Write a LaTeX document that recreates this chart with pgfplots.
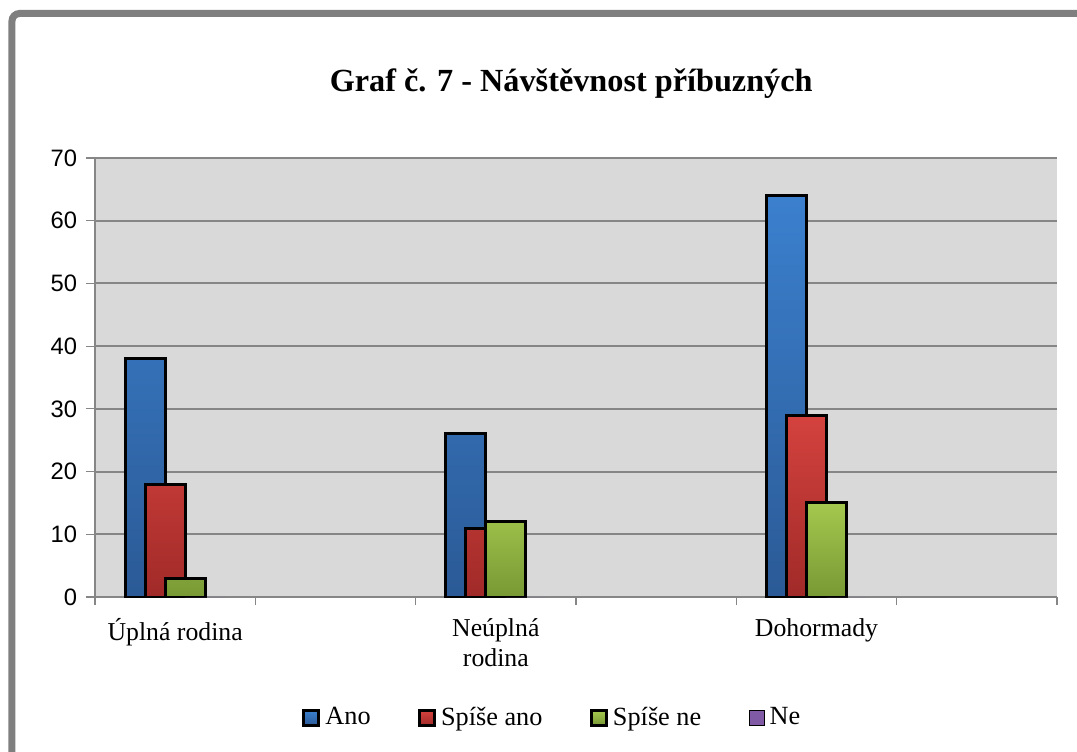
\documentclass[border=0pt]{standalone}
\usepackage{fontspec}
\setmainfont{Liberation Serif}
\setsansfont{Liberation Sans}
\usepackage{pgfplots}
\usepackage{pgfplotstable}
\pgfplotsset{compat=1.18}

\definecolor{bgc}{RGB}{217,217,217}
\definecolor{gridc}{RGB}{134,134,134}
\definecolor{framec}{RGB}{127,127,127}
\definecolor{blueT}{RGB}{59,128,206}
\definecolor{blueB}{RGB}{43,90,150}
\definecolor{redT}{RGB}{212,66,62}
\definecolor{redB}{RGB}{160,42,40}
\definecolor{greenT}{RGB}{164,200,78}
\definecolor{greenB}{RGB}{120,152,52}
\definecolor{neC}{RGB}{128,90,165}

% x: stred kategorie (3 skupiny ve 6 polich)
\pgfplotstableread{
x   ano spiseano spisene ne
0.5 38  18       3       0
2.5 26  11       12      0
4.5 64  29       15      0
}\navsteva

\begin{document}
\begin{tikzpicture}
\useasboundingbox (-38pt,-61.6pt) rectangle (392.8pt,238.8pt);
\draw[framec, line width=2.8pt, rounded corners=3pt] (-33.2pt,-80pt) -- (-33.2pt,233.4pt) -- (420pt,233.4pt);
\begin{axis}[
    scale only axis, width=384.8pt, height=175.6pt,
    xmin=0, xmax=6, ymin=0, ymax=70,
    ytick={0,10,...,70},
    xtick={0.5,2.5,4.5},
    xticklabels={Úplná rodina,{Neúplná\\rodina},Dohormady},
    minor xtick={0,1,...,6},
    axis x line*=bottom, axis y line*=left,
    axis line style={draw=gridc, line width=0.5pt},
    axis background/.style={fill=bgc},
    tick align=outside,
    major tick length=3.6pt, minor tick length=3.2pt,
    major x tick style={draw=none},
    tick style={draw=gridc, line width=0.5pt},
    ymajorgrids, grid style={draw=gridc, line width=0.8pt},
    /pgf/number format/assume math mode=true,
    yticklabel style={font=\sffamily\fontsize{9.5}{11}\selectfont},
    xticklabel style={font=\rmfamily\fontsize{10.3}{12.2}\selectfont, align=center, yshift=-1.5pt},
    title={Graf č. 7 - Návštěvnost příbuzných},
    title style={font=\rmfamily\bfseries\fontsize{12.9}{15}\selectfont, at={(0.495,1.118)}, anchor=base},
    legend style={at={(0.477,-0.2756)}, anchor=center, draw=none, fill=none,
        legend columns=4, font=\rmfamily\fontsize{10.5}{12}\selectfont,
        /tikz/every even column/.append style={column sep=17pt}},
    legend image code/.code={\draw[#1] (0pt,-3pt) rectangle (6pt,3pt);},
    bar width=0.25,
]
\addplot[ybar, bar shift=-0.1875, draw=black, line width=1.2pt, top color=blueT, bottom color=blueB]
    table[x=x, y=ano] {\navsteva};
\addlegendentry{Ano}
\addplot[ybar, bar shift=-0.0625, draw=black, line width=1.2pt, top color=redT, bottom color=redB]
    table[x=x, y=spiseano] {\navsteva};
\addlegendentry{Spíše ano}
\addplot[ybar, bar shift=0.0625, draw=black, line width=1.2pt, top color=greenT, bottom color=greenB]
    table[x=x, y=spisene] {\navsteva};
\addlegendentry{Spíše ne}
\addplot[ybar, bar shift=0.1875, draw=none, fill=neC]
    table[x=x, y=ne] {\navsteva};
\addlegendentry{Ne}
\end{axis}
\end{tikzpicture}
\end{document}
